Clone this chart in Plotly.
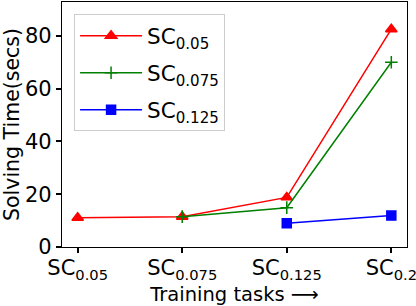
import plotly.graph_objects as go

tasks = ["SC<sub>0.05</sub>", "SC<sub>0.075</sub>", "SC<sub>0.125</sub>", "SC<sub>0.2</sub>"]
x_idx = [0, 1, 2, 3]
sc005 = [11.1, 11.5, 18.8, 82.5]
sc0075 = [None, 11.5, 14.9, 70.0]
sc0125 = [None, None, 9.0, 11.9]

series = [
    ("SC<sub>0.05</sub>", sc005, "red", "triangle-up", 10),
    ("SC<sub>0.075</sub>", sc0075, "green", "cross-thin-open", 9),
    ("SC<sub>0.125</sub>", sc0125, "blue", "square", 9),
]

fig = go.Figure()
for i, (name, ys, col, sym, sz) in enumerate(series):
    fig.add_trace(go.Scatter(
        x=x_idx, y=ys, name=name, mode="lines+markers", legendgroup=f"g{i}",
        line=dict(color=col, width=1.5),
        marker=dict(symbol=sym, size=sz, color=col, line=dict(color=col, width=1.5)),
        connectgaps=False,
    ))

font = dict(family="DejaVu Sans", size=20.5, color="black")
fig.update_layout(
    width=416, height=306,
    margin=dict(l=62, r=9, t=2, b=59, autoexpand=False),
    plot_bgcolor="white", paper_bgcolor="white",
    font=font,
    showlegend=True,
    legend=dict(x=0.035, y=0.95, xanchor="left", yanchor="top",
                bgcolor="rgba(255,255,255,0.8)", bordercolor="#cccccc", borderwidth=1,
                font=dict(family="DejaVu Sans", size=21.5), tracegroupgap=6,
                itemwidth=62),
    xaxis=dict(
        range=[-0.15, 3.15], tickvals=x_idx, ticktext=tasks, automargin=False,
        showgrid=False, zeroline=False, showline=True, linecolor="black", linewidth=1.2,
        mirror=True, ticks="outside", ticklen=5, tickwidth=1.5, tickcolor="black",
        tickfont=dict(size=21), ticklabeloverflow="allow", ticklabelstandoff=-3,
        title=dict(text="Training tasks ⟶", font=dict(size=19.5), standoff=0),
    ),
    yaxis=dict(
        range=[0, 92.8], tickvals=[0, 20, 40, 60, 80], automargin=False,
        showgrid=False, zeroline=False, showline=True, linecolor="black", linewidth=1.2,
        mirror=True, ticks="outside", ticklen=5, tickwidth=1.5, tickcolor="black",
        tickfont=dict(size=21),
        title=dict(text="Solving Time(secs)", font=font, standoff=0),
    ),
)
fig.write_html("out.html", config={"displayModeBar": False},
               post_script="document.body.style.margin='0';document.body.style.overflow='hidden';")
